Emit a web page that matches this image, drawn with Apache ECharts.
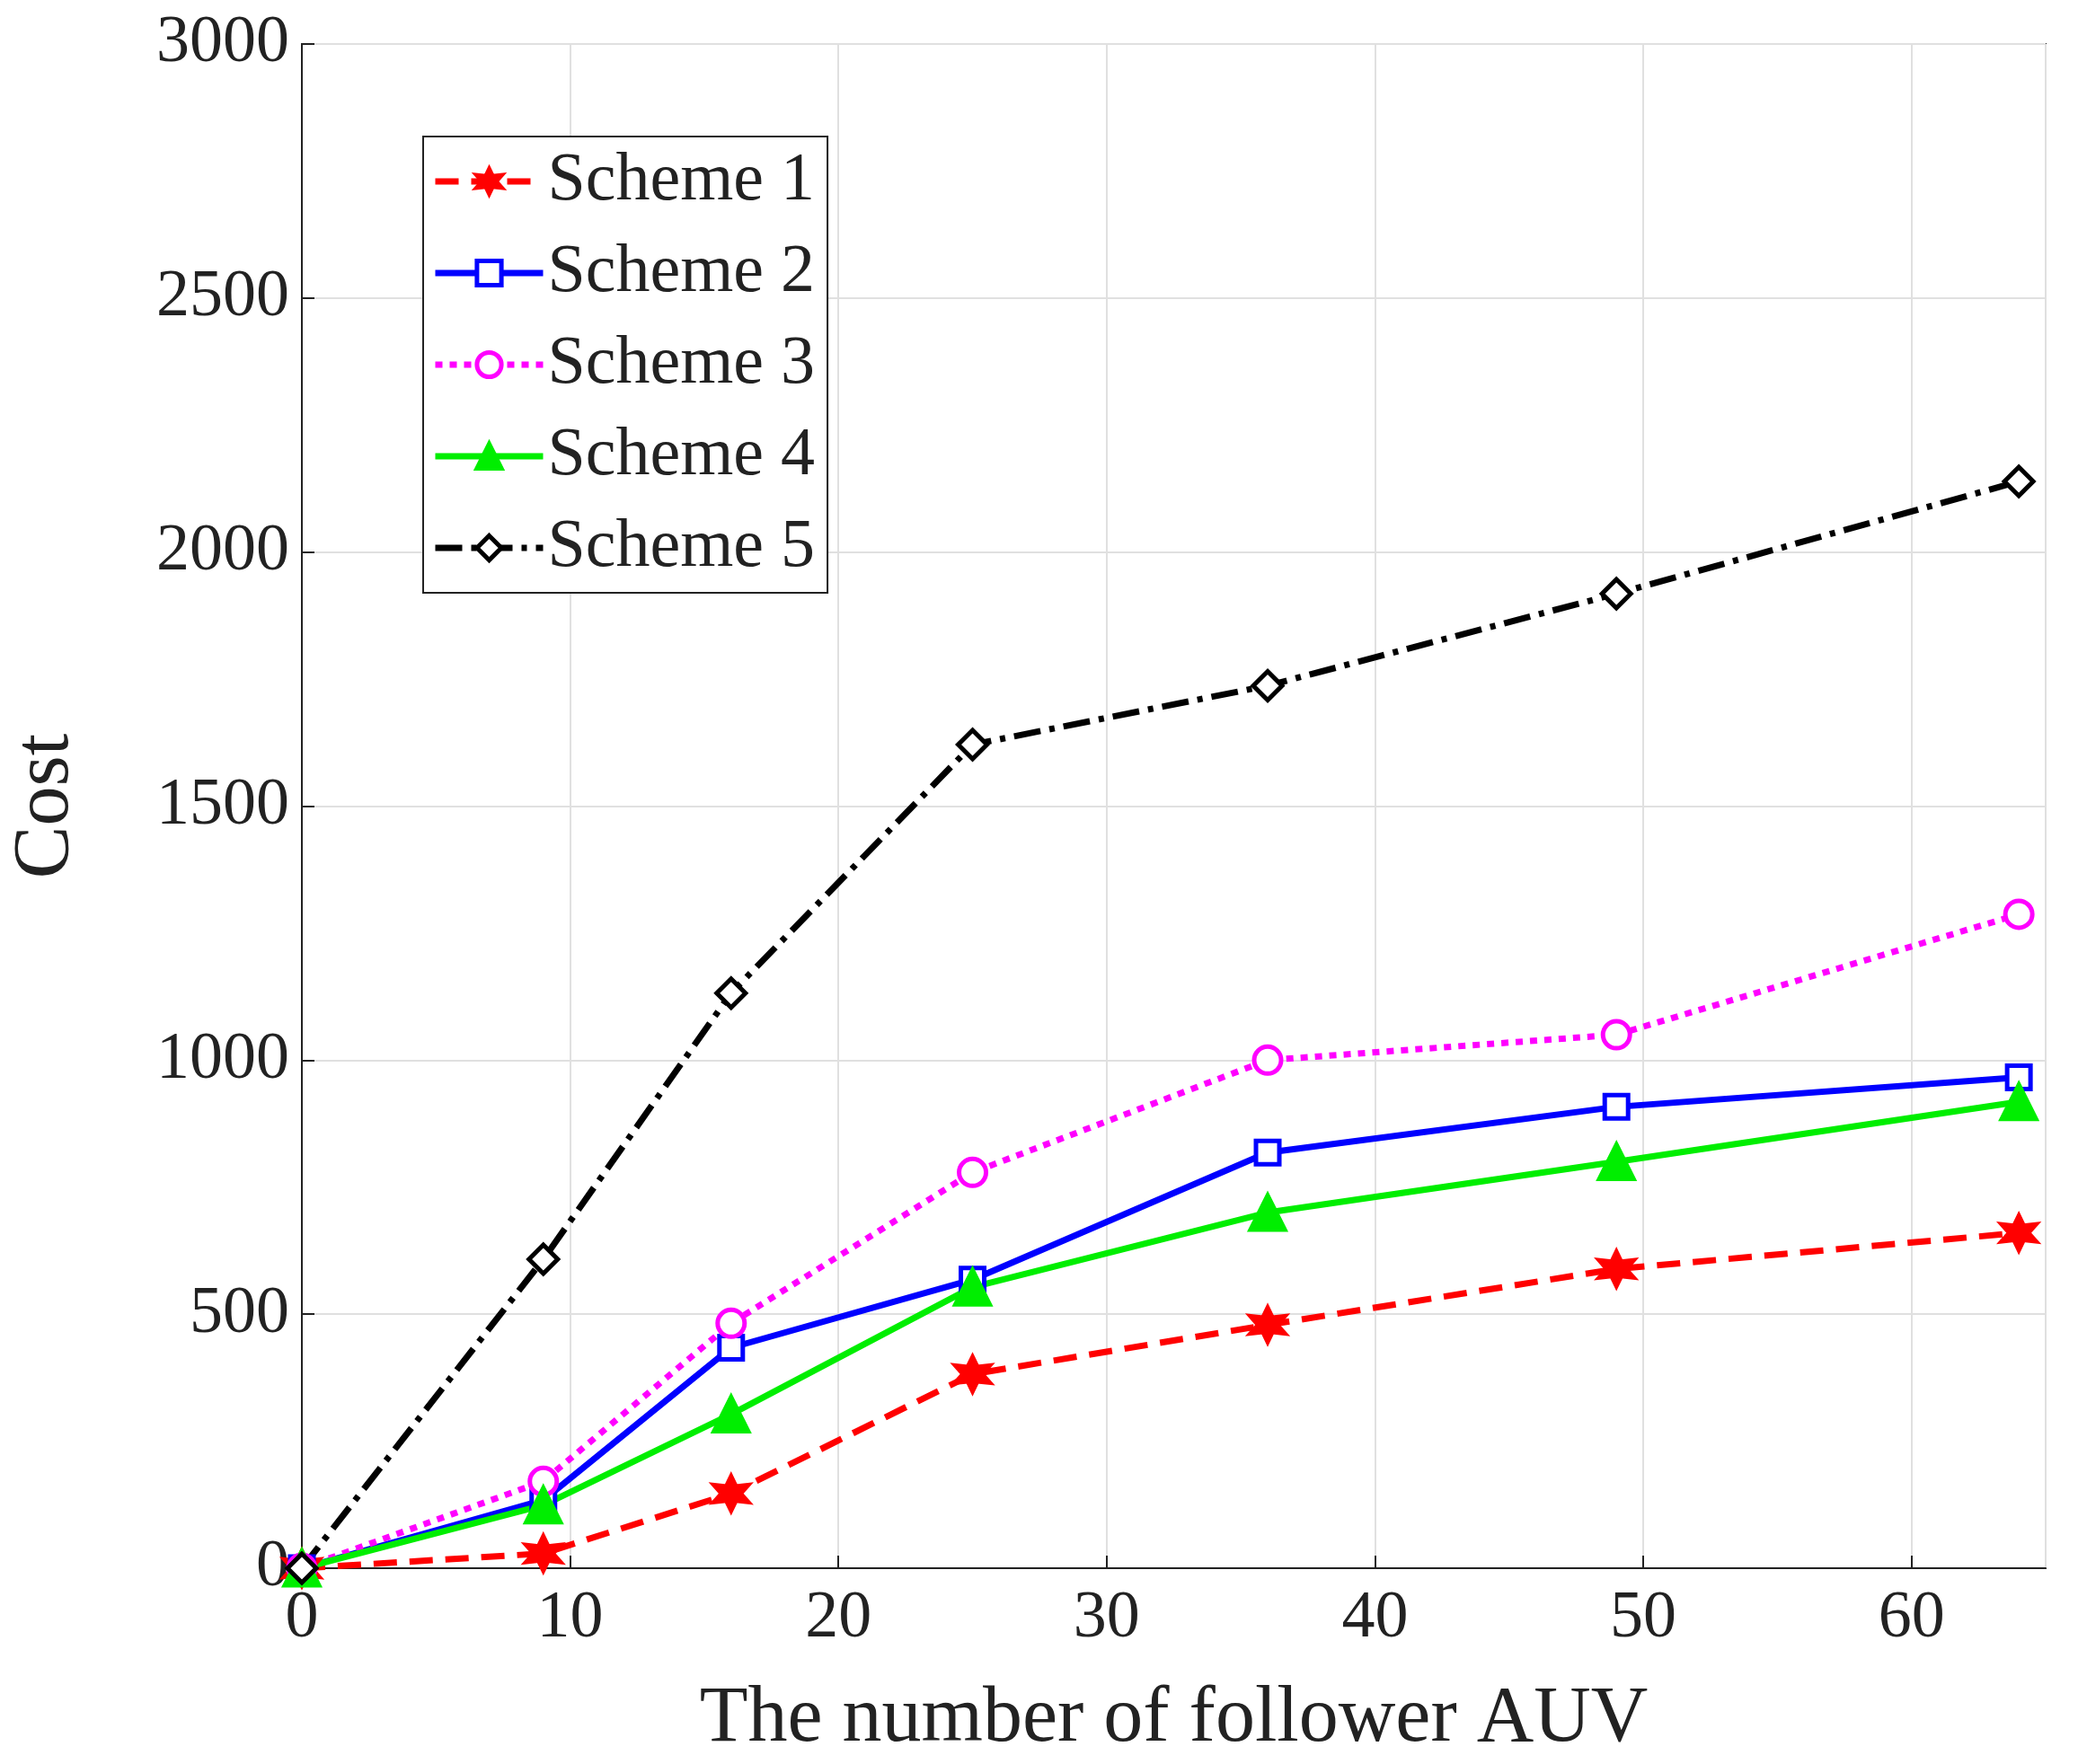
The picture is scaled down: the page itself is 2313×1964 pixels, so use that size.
<!DOCTYPE html>
<html>
<head>
<meta charset="utf-8">
<script src="https://cdn.jsdelivr.net/npm/echarts@6/dist/echarts.min.js"></script>
<style>html,body{margin:0;padding:0;background:#fff}#chart{width:2313px;height:1964px}</style>
</head>
<body>
<div id="chart"></div>
<script>
var xValues = [0, 9, 16, 25, 36, 49, 64];
var scheme1 = [0, 29, 147, 382, 479, 589, 660];
var scheme2 = [0, 134, 434, 568, 818, 908, 966];
var scheme3 = [0, 171, 482, 779, 1000, 1050, 1287];
var scheme4 = [0, 124, 303, 553, 700, 800, 918];
var scheme5 = [0, 608, 1132, 1621, 1737, 1918, 2139];
var names = ["Scheme 1", "Scheme 2", "Scheme 3", "Scheme 4", "Scheme 5"];

var hexagram = "path://M50,0 L62,29 L93,25 L74,50 L93,75 L62,71 L50,100 L38,71 L7,75 L26,50 L7,25 L38,29 Z";

function pairs(arr){
	return arr.map(function(v, i){ return [xValues[i], v]; });
}
function mk(name, data, color, dash, symbol, size, fill){
	return {
		name: name, type: "line", data: pairs(data),
		symbol: symbol, symbolSize: size,
		lineStyle: {color: color, width: 7, type: dash},
		itemStyle: {color: fill, borderColor: color, borderWidth: 5},
		z: 3
	};
}
var font = "Liberation Serif";
var chart = echarts.init(document.getElementById("chart"));
chart.setOption({
	animation: false,
	textStyle: {fontFamily: font},
	grid: {left: 313, right: 36, top: 49, bottom: 217, show: true, borderColor: "#222", borderWidth: 2},
	legend: {
		orient: "vertical", left: 471, top: 152, width: 472,
		backgroundColor: "#fff", borderColor: "#222", borderWidth: 2,
		padding: [12, 14, 12, 10], itemGap: 26, itemWidth: 120, itemHeight: 34,
		lineStyle: {width: 7},
		itemStyle: {borderWidth: 5},
		textStyle: {fontFamily: font, fontSize: 76, color: "#222"},
		data: names
	},
	xAxis: {
		type: "value", min: 0, max: 65, interval: 10,
		name: "The number of follower AUV", nameLocation: "middle", nameGap: 125,
		nameTextStyle: {fontFamily: font, fontSize: 88, color: "#222"},
		axisLine: {lineStyle: {color: "#222", width: 2}},
		axisTick: {inside: true, length: 14, lineStyle: {color: "#222", width: 2}},
		axisLabel: {fontFamily: font, fontSize: 74, color: "#222", margin: 20, showMaxLabel: false},
		splitLine: {lineStyle: {color: "#e0e0e0", width: 2}}
	},
	yAxis: {
		type: "value", min: 0, max: 3000, interval: 500,
		name: "Cost", nameLocation: "middle", nameGap: 240,
		nameTextStyle: {fontFamily: font, fontSize: 88, color: "#222"},
		axisLine: {show: true, lineStyle: {color: "#222", width: 2}},
		axisTick: {show: true, inside: true, length: 14, lineStyle: {color: "#222", width: 2}},
		axisLabel: {fontFamily: font, fontSize: 74, color: "#222", margin: 14, formatter: function(v){ return String(v); }},
		splitLine: {lineStyle: {color: "#e0e0e0", width: 2}}
	},
	series: [
		mk(names[0], scheme1, "#ff0000", [26, 14], hexagram, 38, "#ff0000"),
		mk(names[1], scheme2, "#0000ff", "solid", "rect", 26, "#ffffff"),
		mk(names[2], scheme3, "#ff00ff", [8, 8], "circle", 30, "#ffffff"),
		mk(names[3], scheme4, "#00ee00", "solid", "triangle", 38, "#00ee00"),
		mk(names[4], scheme5, "#000000", [30, 10, 6, 10], "diamond", 32, "#ffffff")
	]
});
</script>
</body>
</html>
